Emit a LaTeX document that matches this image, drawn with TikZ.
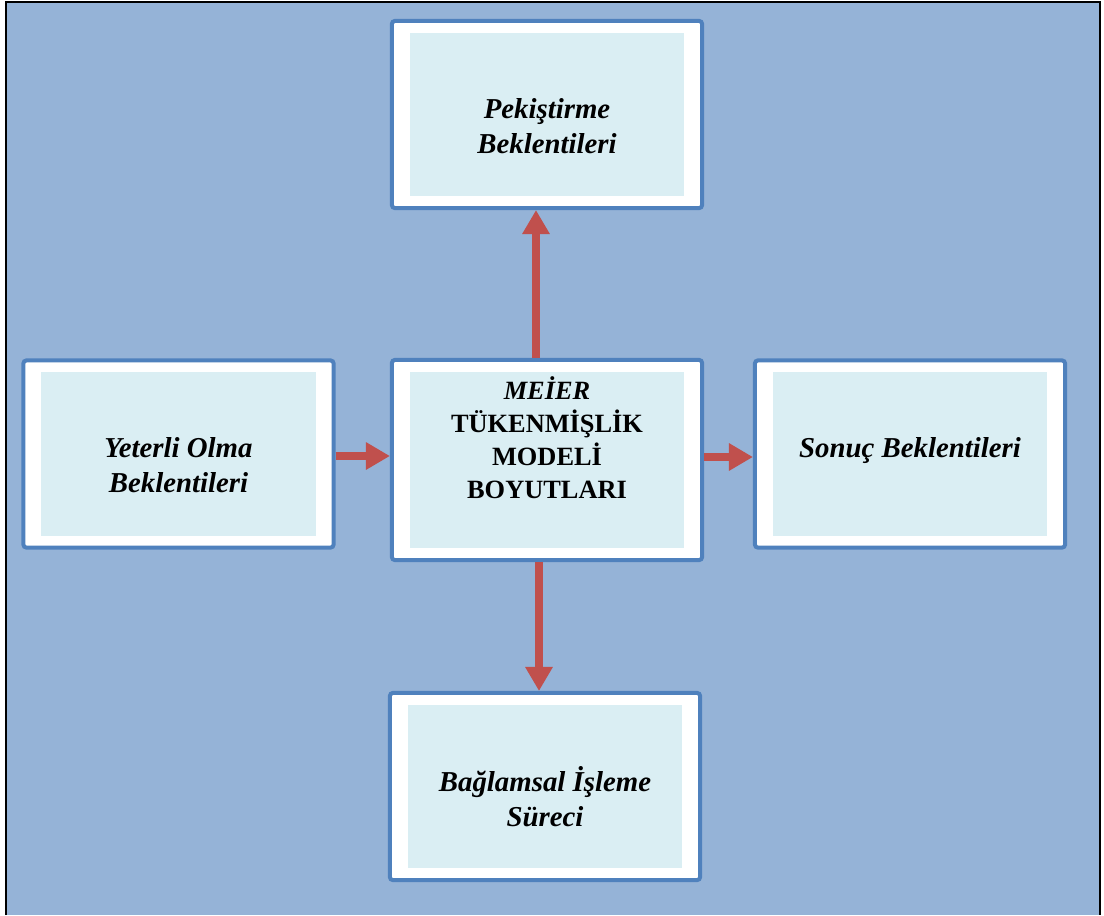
\documentclass[tikz,border=0pt]{standalone}
\usepackage{fontspec}
\setmainfont{Liberation Serif}
\usepackage{tikz}
\usetikzlibrary{arrows.meta,positioning,calc}
\definecolor{meierbg}{HTML}{95B3D7}
\definecolor{meierline}{HTML}{4F81BD}
\definecolor{meierin}{HTML}{DAEEF3}
\definecolor{meierred}{HTML}{C0504D}

\begin{document}
\begin{tikzpicture}[x=0.025cm,y=-0.025cm,
  box/.style={draw=meierline,fill=white,line width=0.1cm,rounded corners=2pt,minimum width=7.75cm,minimum height=4.675cm,inner sep=0pt,
    path picture={\fill[meierin,sharp corners] ([shift={(0.45cm,0.3cm)}]path picture bounding box.south west) rectangle ([shift={(-0.45cm,-0.3cm)}]path picture bounding box.north east);}},
  txt/.style={align=center,font=\fontsize{20.5}{24.9}\selectfont\bfseries\itshape},
  ctxt/.style={align=center,font=\fontsize{18.75}{23.5}\selectfont\bfseries},
  arr/.style={draw=meierred,line width=0.2cm,-{Triangle[length=0.6cm,width=0.65cm]}}]
  \useasboundingbox (0,0) rectangle (1104,915);
  % page frame
  \fill[meierbg] (6,2) rectangle (1100,915);
  \draw[black,line width=0.05cm] (6,915) -- (6,2) -- (1100,2) -- (1100,915);
  % boxes
  \node[box,minimum height=5cm,label={[ctxt,yshift=0.56cm]center:{{\itshape MEİER}\\TÜKENMİŞLİK\\MODELİ\\BOYUTLARI}}] (meier) at (547,460) {};
  \node[box,label={[txt,yshift=-0.3cm]center:{Pekiştirme\\Beklentileri}}] (pek) at (547,114.5) {};
  \node[box,label={[txt,yshift=-0.29cm]center:{Yeterli Olma\\Beklentileri}}] (yet) at (178.5,454) {};
  \node[box,label={[txt,yshift=0.09cm]center:{Sonuç Beklentileri}}] (sonuc) at (910,454) {};
  \node[box,label={[txt,yshift=-0.26cm]center:{Bağlamsal İşleme\\Süreci}}] (surec) at (545,786.5) {};
  % arrows
  \draw[arr] ([yshift=-0.05cm]yet.east) -- ([yshift=-0.05cm]yet.east -| meier.west);
  \draw[arr] ([yshift=-0.075cm]meier.east |- sonuc.west) -- ([yshift=-0.075cm]sonuc.west);
  \draw[arr] ([xshift=-0.275cm]meier.north) -- ([xshift=-0.275cm]meier.north |- pek.south);
  \draw[arr] ([xshift=-0.2cm]meier.south) -- ([xshift=-0.2cm]meier.south |- surec.north);
\end{tikzpicture}
\end{document}
